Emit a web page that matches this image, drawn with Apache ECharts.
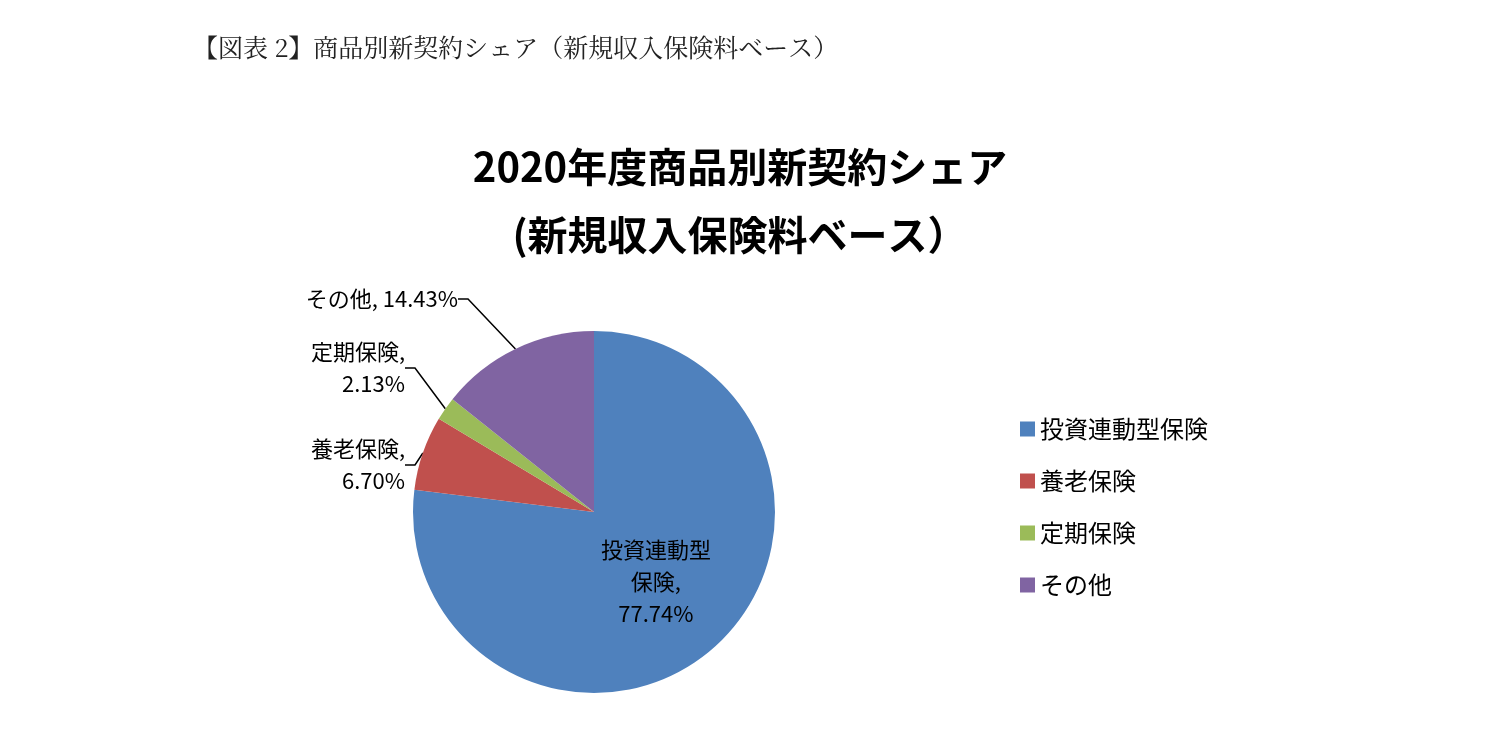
<!DOCTYPE html>
<html>
<head>
<meta charset="utf-8">
<script src="https://cdn.jsdelivr.net/npm/echarts@6/dist/echarts.min.js"></script>
<style>
html,body{margin:0;padding:0;background:#fff;}
#main{width:1488px;height:756px;}
</style>
</head>
<body>
<div id="main"></div>
<script>
var categories = ['投資連動型保険', '養老保険', '定期保険', 'その他'];
var shares = [77.74, 6.70, 2.13, 14.43];
var colors = ['#4f81bd', '#c0504d', '#9bbb59', '#8064a2'];
var labelTexts = ['投資連動型\n保険,', '養老保険,', '定期保険,', 'その他,'];

var myChart = echarts.init(document.getElementById('main'));

// 外側ラベルの位置
var labelPos = [null, [405, 465], [405, 368], [458, 299]];

var option = {
    animation: false,
    title: [
        {
            text: '【図表 2】商品別新契約シェア（新規収入保険料ベース）',
            left: 188, top: 30,
            textStyle: { fontFamily: 'Noto Serif CJK JP, serif', fontWeight: 'normal', fontSize: 25, color: '#222' }
        },
        {
            text: '2020年度商品別新契約シェア\n(新規収入保険料ベース）',
            left: 735, top: 128, textAlign: 'center',
            textStyle: { fontFamily: 'Noto Sans CJK JP', fontWeight: 'bold', fontSize: 40, lineHeight: 68, color: '#000' }
        }
    ],
    legend: {
        orient: 'vertical',
        left: 1015, top: 412,
        itemWidth: 15, itemHeight: 15, itemGap: 28,
        icon: 'rect',
        textStyle: { fontFamily: 'Noto Sans CJK JP', fontSize: 24, color: '#000' },
        data: categories
    },
    series: [{
        type: 'pie',
        center: [594, 512],
        radius: [0, 181],
        startAngle: 90,
        clockwise: true,
        color: colors,
        label: {
            fontFamily: 'Noto Sans CJK JP',
            fontSize: 22,
            lineHeight: 32,
            color: '#000',
            align: 'right',
            formatter: function (p) {
                var t = labelTexts[p.dataIndex];
                var v = p.value.toFixed(2) + '%';
                return p.dataIndex === 3 ? t + ' ' + v : t + '\n' + v;
            }
        },
        labelLine: { show: true, length: 10, length2: 10, lineStyle: { color: '#000', width: 1.5 } },
        labelLayout: function (p) {
            var pos = labelPos[p.dataIndex];
            if (!pos) return {};
            return { x: pos[0], y: pos[1], align: 'right', verticalAlign: 'middle' };
        },
        data: categories.map(function (c, i) {
            var d = { name: c, value: shares[i] };
            if (i === 0) {
                d.label = { position: 'inside', align: 'center' };
                d.labelLine = { show: false };
            }
            return d;
        })
    }]
};

myChart.setOption(option);
</script>
</body>
</html>
